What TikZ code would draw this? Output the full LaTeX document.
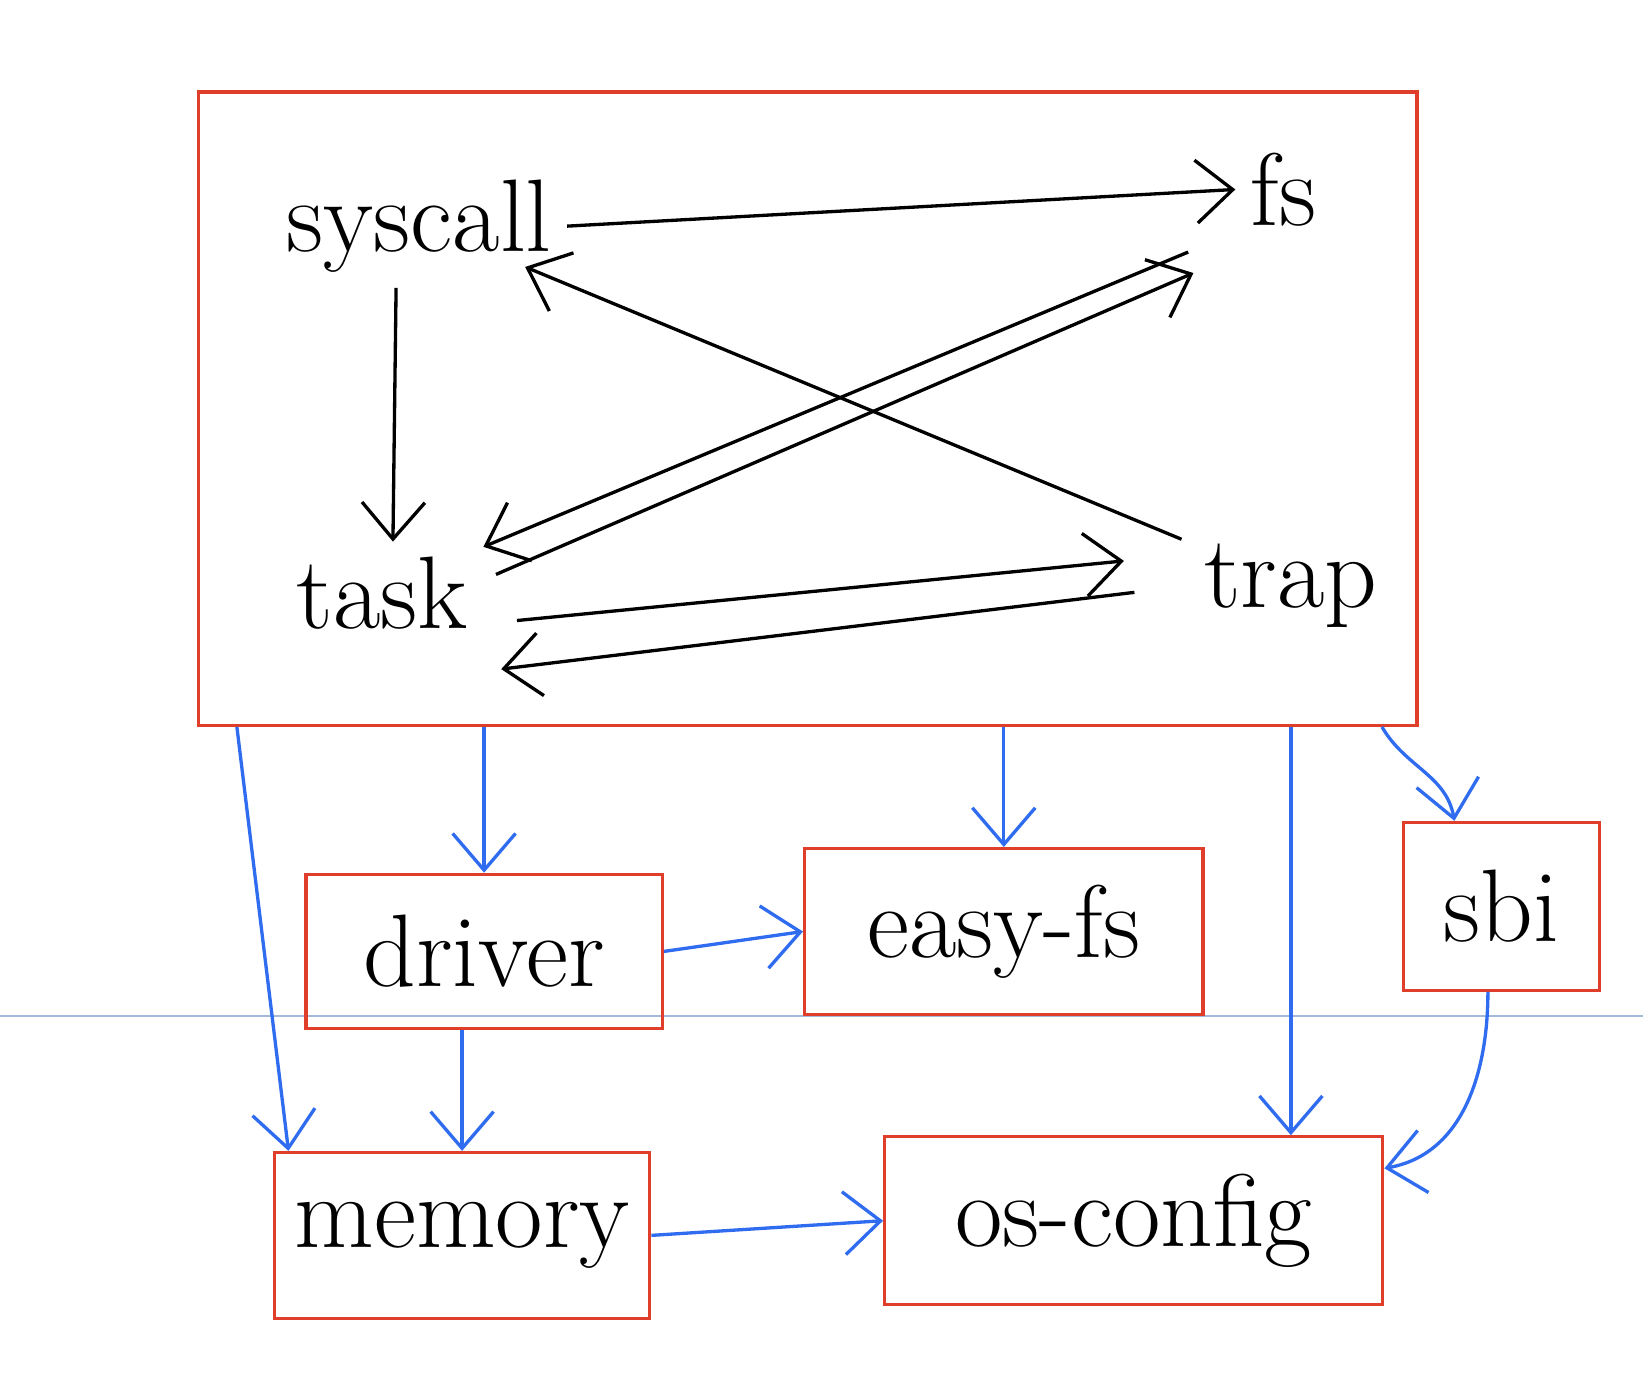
\documentclass[tikz,border=0pt]{standalone}
\usepackage{tikz}
\usetikzlibrary{arrows.meta,calc}

\definecolor{penred}{RGB}{222,62,42}
\definecolor{penblue}{RGB}{48,108,240}
\definecolor{guideblue}{RGB}{165,185,220}

\begin{document}
\begin{tikzpicture}[x=0.01cm,y=-0.01cm,
    word/.style={inner sep=4pt,font=\fontsize{28}{34}\selectfont},
    modbox/.style={draw=penred,line width=0.9pt,inner sep=0pt,font=\fontsize{28}{34}\selectfont},
    blackarrow/.style={line width=0.9pt,-{Straight Barb[length=3.5mm,width=6mm]}},
    bluearrow/.style={draw=penblue,line width=0.9pt,-{Straight Barb[length=3.5mm,width=6mm]}}]
    \useasboundingbox (0,0) rectangle (1568,1328);

    % page guide line
    \draw[guideblue,line width=0.6pt] (0,970) -- (1568,970);

    % kernel box and its parts
    \node[draw=penred,line width=0.9pt,minimum width=11.62cm,minimum height=6.04cm] (kernel) at (771,390) {};
    \node[word,anchor=base] (syscall) at (400,240) {syscall};
    \node[word,anchor=base] (fs) at (1225,215) {fs};
    \node[word,anchor=base] (task) at (365,600) {task};
    \node[word,anchor=base] (trap) at (1232,580) {trap};

    \draw[blackarrow] (syscall.east) -- (fs.west);
    \draw[blackarrow] ($(syscall.south)+(-22,0)$) -- ($(task.north)+(10,0)$);
    \draw[blackarrow] ($(trap.north west)+(-7,10)$) -- ($(syscall.south east)+(-40,-20)$);
    \draw[blackarrow] ($(task.east)+(12,-18)$) -- ($(fs.south west)+(-40,30)$);
    \draw[blackarrow] ($(fs.south west)+(-45,10)$) -- ($(task.north east)+(0,5)$);
    \draw[blackarrow] ($(task.east)+(32,26)$) -- ($(trap.west)+(-62,-24)$);
    \draw[blackarrow] ($(trap.west)+(-52,6)$) -- ($(task.south east)+(17,23)$);

    % crates
    \node[modbox,minimum width=3.4cm,minimum height=1.47cm] (driver) at (462,908) {driver};
    \node[modbox,minimum width=3.8cm,minimum height=1.58cm] (easyfs) at (958,889) {easy-fs};
    \node[modbox,minimum width=1.87cm,minimum height=1.6cm] (sbi) at (1433,865) {sbi};
    \node[modbox,minimum width=3.58cm,minimum height=1.58cm] (memory) at (441,1179) {memory};
    \node[modbox,minimum width=4.75cm,minimum height=1.6cm] (osconfig) at (1082,1165) {os-config};

    \draw[bluearrow] (kernel.south -| driver.north) -- (driver.north);
    \draw[bluearrow] (kernel.south -| easyfs.north) -- (easyfs.north);
    \draw[bluearrow] (kernel.south -| trap) -- (osconfig.north -| trap);
    \draw[bluearrow] ($(kernel.south east)+(-35,0)$) to[out=-60,in=100] ($(sbi.north)+(-45,0)$);
    \draw[bluearrow] ($(kernel.south west)+(38,0)$) -- ($(memory.north west)+(15,0)$);
    \draw[bluearrow] (driver.east) -- (easyfs.west);
    \draw[bluearrow] (driver.south -| memory.north) -- (memory.north);
    \draw[bluearrow] ($(sbi.south)+(-13,0)$) to[out=-90,in=10] ($(osconfig.east)+(0,-50)$);
    \draw[bluearrow] (memory.east) -- (osconfig.west);
\end{tikzpicture}
\end{document}
